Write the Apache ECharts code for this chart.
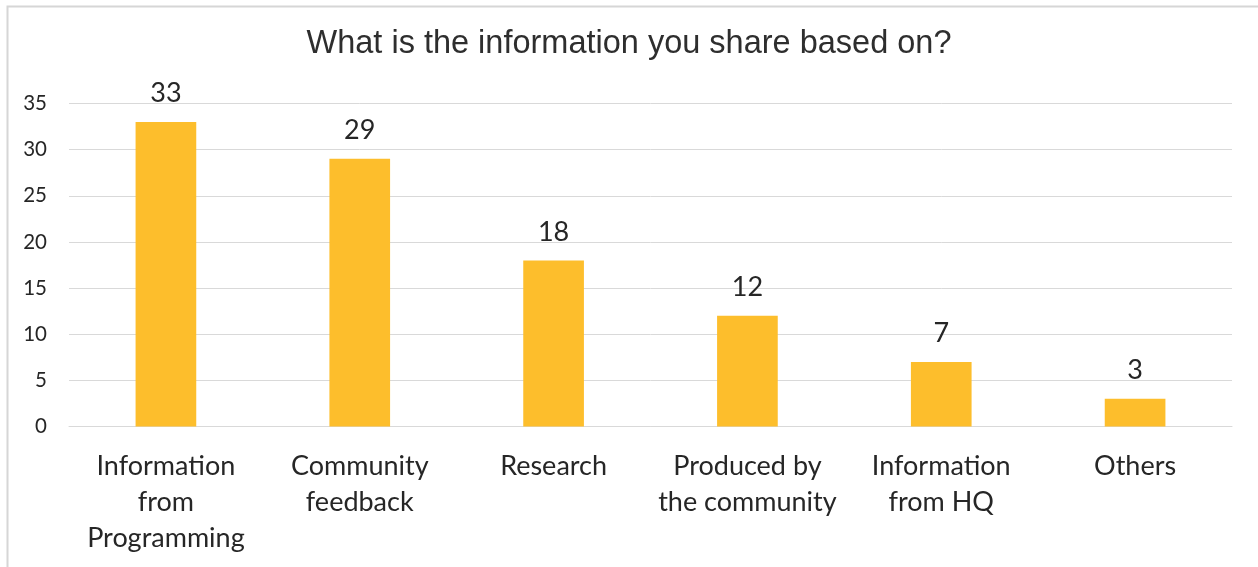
<!DOCTYPE html>
<html>
<head>
<meta charset="utf-8">
<script src="https://cdn.jsdelivr.net/npm/echarts@6/dist/echarts.min.js"></script>
<style>
  html, body { margin: 0; padding: 0; background: #ffffff; }
  #chart { width: 1258px; height: 567px; }
</style>
</head>
<body>
<div id="chart"></div>
<script>
// Survey answers: sources of the information respondents share
const categories = [
  'Information\nfrom\nProgramming',
  'Community\nfeedback',
  'Research',
  'Produced by\nthe community',
  'Information\nfrom HQ',
  'Others'
];
const counts = [33, 29, 18, 12, 7, 3];
const yTicks = { min: 0, max: 35, interval: 5 };
const titleText = 'What is the information you share based on?';

const labelFont = 'Lato, "Open Sans", sans-serif';
const textColor = '#262626';
const gridColor = '#d9d9d9';

const chart = echarts.init(document.getElementById('chart'), null, { renderer: 'canvas' });

chart.setOption({
  backgroundColor: '#ffffff',
  animation: false,
  title: {
    text: titleText,
    left: 'center',
    top: 23,
    textStyle: {
      fontFamily: '"Liberation Sans", Arial, sans-serif',
      fontSize: 32.5,
      fontWeight: 'normal',
      color: '#2e2e2e'
    }
  },
  graphic: [{
    type: 'rect',
    left: 5,
    top: 4,
    shape: { width: 1400, height: 700 },
    style: { fill: 'none', stroke: '#d6d6d6', lineWidth: 2 },
    silent: true
  }],
  grid: { left: 69, right: 26, top: 103.5, bottom: 140.5 },
  xAxis: {
    type: 'category',
    data: categories,
    axisLine: { show: true, lineStyle: { color: gridColor, width: 1 } },
    axisTick: { show: false },
    axisLabel: {
      interval: 0,
      margin: 21.5,
      fontFamily: labelFont,
      fontSize: 27,
      lineHeight: 36,
      color: textColor
    }
  },
  yAxis: {
    type: 'value',
    min: yTicks.min,
    max: yTicks.max,
    interval: yTicks.interval,
    axisLine: { show: false },
    axisTick: { show: false },
    splitLine: { lineStyle: { color: gridColor, width: 1 } },
    axisLabel: {
      margin: 22,
      fontFamily: labelFont,
      fontSize: 20.5,
      color: textColor
    }
  },
  series: [{
    type: 'bar',
    data: counts,
    barWidth: '31.3%',
    itemStyle: { color: '#fdbe2c' },
    label: {
      show: true,
      position: 'top',
      distance: 15,
      fontFamily: labelFont,
      fontSize: 27,
      color: textColor
    }
  }]
});
</script>
</body>
</html>
